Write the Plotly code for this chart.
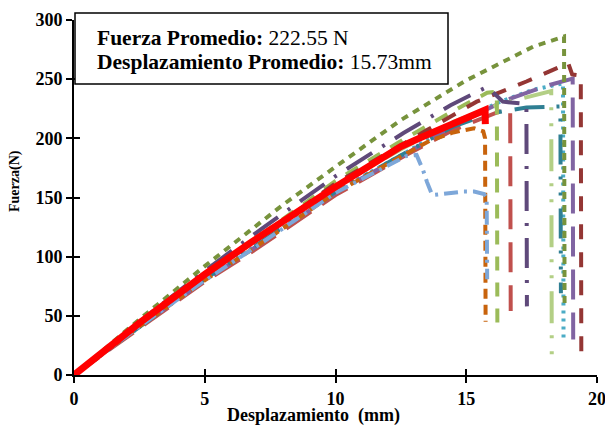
import plotly.graph_objects as go

# ---- data ----
olive_x = [0, 1, 2.5, 5, 6.73, 8, 10, 12.5, 15, 17.56, 18.74, 18.76]
olive_y = [0, 19, 47, 92, 122.5, 144, 176, 215.5, 249, 277.5, 286, 56]

dpurple_x = [0, 2.5, 5, 7.2, 10, 12.6, 14.4, 15.8, 16.4, 17.3, 17.32]
dpurple_y = [0, 45, 88, 124, 168, 204.5, 228, 243.5, 231, 229, 58]

dred_x = [0, 2.5, 5, 7.5, 10, 12, 13.5, 15.4, 17.3, 18.9, 19.05, 19.38, 19.4]
dred_y = [0, 43, 84, 122, 162, 188, 207, 231, 248, 263.5, 254, 253, 20]

lgreen_x = [0, 2.5, 5, 7.5, 10, 12.6, 14.4, 15.8, 16.17, 16.19]
lgreen_y = [0, 44, 86, 124, 164, 199, 222, 238.5, 239.5, 40]

rdash_x = [0, 2.5, 5, 6.73, 10, 12.7, 14.5, 16.3, 16.68, 16.7]
rdash_y = [0, 40, 79, 103, 152, 186, 207, 223, 224, 54]

cyan_x = [0, 2.5, 5, 6.73, 10, 12.7, 14.5, 16.3, 17.56, 18.7, 18.72]
cyan_y = [0, 41, 81, 106, 155, 188, 212, 231, 241, 246.5, 30]

purple_x = [0, 2.5, 5, 6.73, 10, 12.7, 14.5, 16.5, 18.0, 19.0, 19.07, 19.09]
purple_y = [0, 41, 80, 105, 154, 187, 211, 232, 244, 250, 250.5, 30]

teal_x = [0, 2.5, 5, 6.73, 10, 12.7, 14.5, 15.9, 17.3, 18.6, 18.62]
teal_y = [0, 41, 81, 106, 155, 188, 210, 221, 226, 227, 69]

orange_x = [0, 2.5, 5, 6.73, 10, 12.7, 13.6, 14.5, 15.3, 15.65, 15.72, 15.74]
orange_y = [0, 41, 80, 105, 154, 187, 198, 205, 208.5, 206, 200, 45]

lblue_x = [0, 2.5, 5, 6.73, 10, 12.7, 13.1, 13.35, 13.5, 13.7, 14.1, 14.9, 15.3, 15.68, 15.78, 15.8]
lblue_y = [0, 41, 80, 105, 154, 185, 186, 173, 163, 152, 153, 155, 155, 153, 150, 81]

pgreen_x = [0, 2.5, 5, 6.73, 10, 12.7, 14.5, 16.3, 17.3, 18.1, 18.25, 18.27]
pgreen_y = [0, 43, 84, 110, 160, 193, 214, 229, 235, 239.5, 240, 16]

mean_x = [0, 2.5, 5, 6.73, 10, 12.5, 13.3, 14.9, 15.72, 15.73]
mean_y = [0, 44, 85, 111.5, 159, 193, 201, 217, 224, 212]

x_ticks = [0, 5, 10, 15, 20]
y_ticks = [0, 50, 100, 150, 200, 250, 300]

series = [
    (rdash_x, rdash_y, "#C0504D", "30px,13px", 4),
    (cyan_x, cyan_y, "#4BACC6", "3px,5px", 4),
    (purple_x, purple_y, "#8064A2", "30px,13px", 4),
    (teal_x, teal_y, "#2F7F93", "30px,12px,3px,13px,3px,13px", 4),
    (orange_x, orange_y, "#C8630C", "10px,6px", 4),
    (lblue_x, lblue_y, "#7DA7D9", "14px,6px,3px,6px", 4),
    (pgreen_x, pgreen_y, "#B3CF85", "32px,12px,3px,13px,3px,13px", 4),
    (lgreen_x, lgreen_y, "#9BBB59", "14px,12px", 4),
    (dred_x, dred_y, "#943634", "15px,13px", 4),
    (dpurple_x, dpurple_y, "#5F497A", "30px,12px,3px,12px", 4),
    (olive_x, olive_y, "#77933C", "7px,6px", 4),
]

FONT = "Liberation Serif"

fig = go.Figure()
for xs, ys, col, dash, w in series:
    fig.add_trace(go.Scatter(x=xs, y=ys, mode="lines",
                             line=dict(color=col, width=w, dash=dash),
                             showlegend=False, hoverinfo="skip"))
fig.add_trace(go.Scatter(x=mean_x, y=mean_y, mode="lines",
                         line=dict(color="#FF0000", width=7),
                         showlegend=False, hoverinfo="skip"))

axis_common = dict(showgrid=False, zeroline=False, automargin=False)
fig.update_layout(
    width=605, height=426,
    margin=dict(l=74, r=8, t=20, b=51),
    plot_bgcolor="white", paper_bgcolor="white",
    xaxis=dict(range=[0, 20], tickvals=x_ticks, showline=True, linecolor="black",
               linewidth=2, ticks="outside", ticklen=6, tickwidth=2, tickcolor="black",
               ticklabeloverflow="allow",
               tickfont=dict(family=FONT, size=18, color="black", weight="bold"),
               **axis_common),
    yaxis=dict(range=[0, 300], tickvals=y_ticks, showline=True, linecolor="black",
               linewidth=2, ticks="outside", ticklen=6, tickwidth=2, tickcolor="black",
               ticklabeloverflow="allow",
               tickfont=dict(family=FONT, size=18, color="black", weight="bold"),
               **axis_common),
    xaxis2=dict(range=[0, 20], tickvals=x_ticks, overlaying="x", anchor="y", side="bottom",
                ticks="inside", ticklen=6, tickwidth=2, tickcolor="black",
                showticklabels=False, showline=False, **axis_common),
    yaxis2=dict(range=[0, 300], tickvals=y_ticks, overlaying="y", anchor="x", side="left",
                ticks="inside", ticklen=6, tickwidth=2, tickcolor="black",
                showticklabels=False, showline=False, **axis_common),
)
fig.add_trace(go.Scatter(x=[None], y=[None], xaxis="x2", yaxis="y2",
                         showlegend=False, hoverinfo="skip"))

# legend-like info box
fig.add_shape(type="rect", xref="paper", yref="paper",
              x0=(75 - 74) / 523, x1=(448 - 74) / 523,
              y0=(375 - 84) / 355, y1=(375 - 13) / 355,
              line=dict(color="black", width=1.5), fillcolor="white", layer="above")
fig.add_annotation(xref="paper", yref="paper", x=(95 - 74) / 523, y=(375 - 38) / 355,
                   xanchor="left", yanchor="middle", showarrow=False,
                   text="<b>Fuerza Promedio:</b> 222.55 N",
                   font=dict(family=FONT, size=21.5, color="black"))
fig.add_annotation(xref="paper", yref="paper", x=(95 - 74) / 523, y=(375 - 62) / 355,
                   xanchor="left", yanchor="middle", showarrow=False,
                   text="<b>Desplazamiento Promedio:</b> 15.73mm",
                   font=dict(family=FONT, size=21.5, color="black"))

# axis titles
fig.add_annotation(xref="paper", yref="paper", x=(313 - 74) / 523, y=(375 - 415) / 355,
                   xanchor="center", yanchor="middle", showarrow=False,
                   text="<b>Desplazamiento  (mm)</b>",
                   font=dict(family=FONT, size=18, color="black"))
fig.add_annotation(xref="paper", yref="paper", x=(15 - 74) / 523, y=(375 - 181) / 355,
                   xanchor="center", yanchor="middle", showarrow=False, textangle=-90,
                   text="<b>Fuerza(N)</b>",
                   font=dict(family=FONT, size=14, color="black"))

fig.write_html("out.html", config={"displayModeBar": False},
               post_script="document.body.style.margin='0';")
